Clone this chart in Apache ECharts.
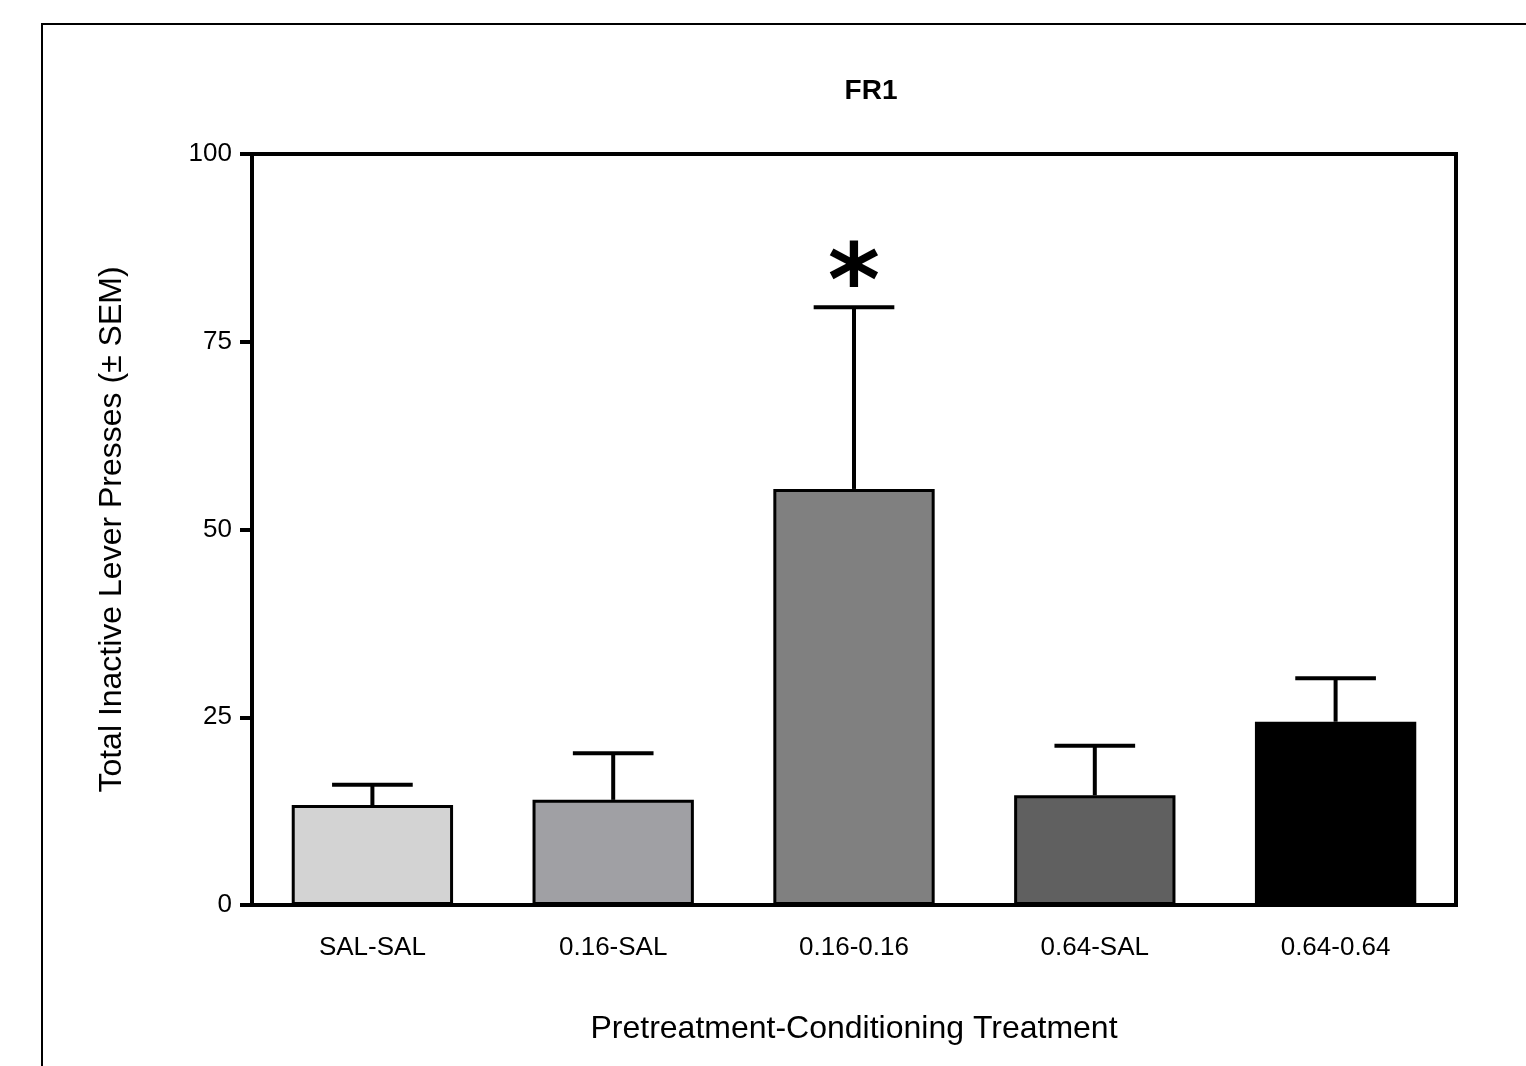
<!DOCTYPE html>
<html><head><meta charset="utf-8">
<script src="https://cdn.jsdelivr.net/npm/echarts@6/dist/echarts.min.js"></script>
<style>html,body{margin:0;padding:0;background:#fff}#c{width:1526px;height:1066px}</style>
</head><body><div id="c"></div>
<script>
const categories = ["SAL-SAL", "0.16-SAL", "0.16-0.16", "0.64-SAL", "0.64-0.64"];
const means = [13.3, 14.0, 55.4, 14.6, 24.4];
const sems = [2.7, 6.2, 24.2, 6.6, 5.8];
const significance = ["", "", "*", "", ""];
const barColors = ["#d3d3d3", "#a0a0a4", "#808080", "#606060", "#000000"];
const yTicks = [0, 25, 50, 75, 100];

const chart = echarts.init(document.getElementById('c'));
const font = '"Liberation Sans", Arial, sans-serif';
chart.setOption({
  animation: false,
  backgroundColor: '#fff',
  title: {text: 'FR1', left: 866, top: 72, textAlign: 'center',
    textStyle: {fontFamily: font, fontWeight: 'bold', fontSize: 28, color: '#000'}},
  graphic: [
    {type: 'polyline', shape: {points: [[42, 1066], [42, 24], [1526, 24]]},
     style: {stroke: '#000', lineWidth: 2, fill: null}}
  ],
  grid: {left: 252, right: 70, top: 154, bottom: 161, show: true, borderColor: '#000', borderWidth: 4, containLabel: false},
  xAxis: {type: 'category', data: categories,
    axisLine: {lineStyle: {color: '#000', width: 4}},
    axisTick: {show: false},
    axisLabel: {margin: 30, fontFamily: font, fontSize: 26, color: '#000'},
    name: 'Pretreatment-Conditioning Treatment', nameLocation: 'middle', nameGap: 108,
    nameTextStyle: {fontFamily: font, fontSize: 32, color: '#000'}},
  yAxis: {type: 'value', min: 0, max: 100, interval: 25,
    axisLine: {show: true, lineStyle: {color: '#000', width: 4}},
    axisTick: {show: true, length: 12, lineStyle: {color: '#000', width: 4}},
    axisLabel: {margin: 20, fontFamily: font, fontSize: 26, color: '#000',
      formatter: v => yTicks.includes(v) ? String(v) : ''},
    splitLine: {show: false},
    name: 'Total Inactive Lever Presses (\u00b1 SEM)', nameLocation: 'middle', nameGap: 124,
    nameTextStyle: {fontFamily: font, fontSize: 32, color: '#000'}},
  series: [
    {type: 'bar', barWidth: '67%',
     data: means.map((v, i) => ({value: v, itemStyle: {color: barColors[i]}})),
     itemStyle: {borderColor: '#000', borderWidth: 3}, z: 2},
    {type: 'custom', z: 3,
     data: means.map((v, i) => [i, v, v + sems[i], significance[i]]),
     renderItem: (params, api) => {
       const x = api.coord([api.value(0), 0])[0];
       const yb = api.coord([0, api.value(1)])[1];
       const yt = api.coord([0, api.value(2)])[1];
       const bw = api.size([1, 0])[0] * 0.67;
       const half = bw / 4;
       const children = [
         {type: 'line', shape: {x1: x, y1: yb, x2: x, y2: yt}, style: {stroke: '#000', lineWidth: 4}},
         {type: 'line', shape: {x1: x - half, y1: yt, x2: x + half, y2: yt}, style: {stroke: '#000', lineWidth: 4}}
       ];
       const s = significance[params.dataIndex];
       if (s) children.push({type: 'text', style: {text: s, x: x, y: yt - 68, textAlign: 'center', textVerticalAlign: 'top',
         fontFamily: '"DejaVu Sans", sans-serif', fontWeight: 'bold', fontSize: 100, fill: '#000'}});
       return {type: 'group', children};
     }}
  ]
});
</script></body></html>
